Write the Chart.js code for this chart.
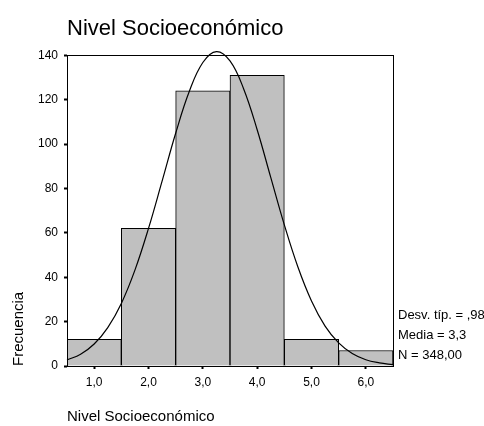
<!DOCTYPE html>
<html>
<head>
<meta charset="utf-8">
<script src="https://cdn.jsdelivr.net/npm/chart.js@4"></script>
<style>
  html, body { margin: 0; padding: 0; background: #fff; }
  #wrap { width: 484px; height: 426px; }
</style>
</head>
<body>
<div id="wrap"><canvas id="histo"></canvas></div>
<script>
// Nivel Socioeconomico - histograma con curva normal

var categories = [1, 2, 3, 4, 5, 6];
var counts = [12, 62, 124, 131, 12, 7];
var yTicks = [0, 20, 40, 60, 80, 100, 120, 140];

// curva normal
var curveX = [0.5, 0.75, 1, 1.25, 1.5, 1.75, 2, 2.25, 2.5, 2.75, 3, 3.25, 3.5,
  3.75, 4, 4.25, 4.5, 4.75, 5, 5.25, 5.5, 5.75, 6, 6.25, 6.5];
var curveY = [2.7, 5.3, 9.9, 17.3, 28.2, 43.2, 62, 83.3, 104.9, 123.7, 136.8, 141.7, 137.5,
  125, 106.5, 85, 63.6, 44.6, 29.3, 18, 10.4, 5.6, 2.8, 1.4, 0.6];

var statLines = ["Desv. típ. = ,98", "Media = 3,3", "N = 348,00"];

var FONT = "'Liberation Sans', Arial, sans-serif";
Chart.defaults.font.family = FONT;
Chart.defaults.color = "#000";

const frameAndStats = {
  id: 'frameAndStats',
  afterDraw(chart) {
    const ctx = chart.ctx;
    const a = chart.chartArea;
    ctx.save();
    ctx.strokeStyle = '#000';
    ctx.lineWidth = 1;
    ctx.strokeRect(Math.round(a.left) + 0.5, Math.round(a.top) + 0.5,
      Math.round(a.right - a.left), Math.round(a.bottom - a.top));
    ctx.fillStyle = '#000';
    ctx.font = "13px " + FONT;
    ctx.textBaseline = 'middle';
    ctx.textAlign = 'left';
    statLines.forEach((t, i) => {
      ctx.fillText(t, a.right + 5, 315 + i * 20);
    });
    ctx.restore();
  }
};

const ctx = document.getElementById('histo').getContext('2d');
new Chart(ctx, {
  type: 'bar',
  data: {
    datasets: [
      {
        type: 'line',
        data: curveX.map((x, i) => ({ x: x, y: curveY[i] })),
        borderColor: '#000',
        borderWidth: 1.2,
        pointRadius: 0,
        tension: 0.4,
        fill: false,
        clip: false,
        order: 0
      },
      {
        type: 'bar',
        data: categories.map((c, i) => ({ x: c, y: counts[i] })),
        backgroundColor: '#c0c0c0',
        borderColor: '#000',
        borderWidth: 1,
        barPercentage: 1,
        categoryPercentage: 1,
        order: 1
      }
    ]
  },
  options: {
    responsive: true,
    maintainAspectRatio: false,
    animation: false,
    layout: { padding: { left: 0, right: 91, top: 0, bottom: 0 } },
    plugins: {
      legend: { display: false },
      tooltip: { enabled: false },
      title: {
        display: true,
        text: 'Nivel Socioeconómico',
        align: 'start',
        fullSize: false,
        color: '#000',
        font: { size: 22, weight: 'normal' },
        padding: { top: 16, bottom: 13 }
      }
    },
    scales: {
      x: {
        type: 'linear',
        min: 0.5,
        max: 6.5,
        offset: false,
        afterBuildTicks: (axis) => { axis.ticks = categories.map(v => ({ value: v })); },
        afterFit: (s) => { s.height = 60; },
        grid: { offset: false, drawOnChartArea: false, drawTicks: true, tickLength: 3, tickWidth: 2, color: '#000' },
        border: { display: false },
        ticks: {
          font: { size: 12 },
          padding: 6,
          maxRotation: 0,
          callback: (v) => v.toFixed(1).replace('.', ',')
        },
        title: {
          display: true,
          text: 'Nivel Socioeconómico',
          align: 'start',
          font: { size: 15 },
          padding: { top: 0, bottom: 0 }
        }
      },
      y: {
        min: 0,
        max: 140,
        afterBuildTicks: (axis) => { axis.ticks = yTicks.map(v => ({ value: v })); },
        afterFit: (s) => { s.width = 67; },
        grid: { drawOnChartArea: false, drawTicks: true, tickLength: 3, tickWidth: 2, color: '#000' },
        border: { display: false },
        ticks: { font: { size: 12 }, padding: 6 },
        title: {
          display: true,
          text: 'Frecuencia',
          align: 'start',
          font: { size: 15 },
          padding: { top: 10, bottom: 10 }
        }
      }
    }
  },
  plugins: [frameAndStats]
});
</script>
</body>
</html>
